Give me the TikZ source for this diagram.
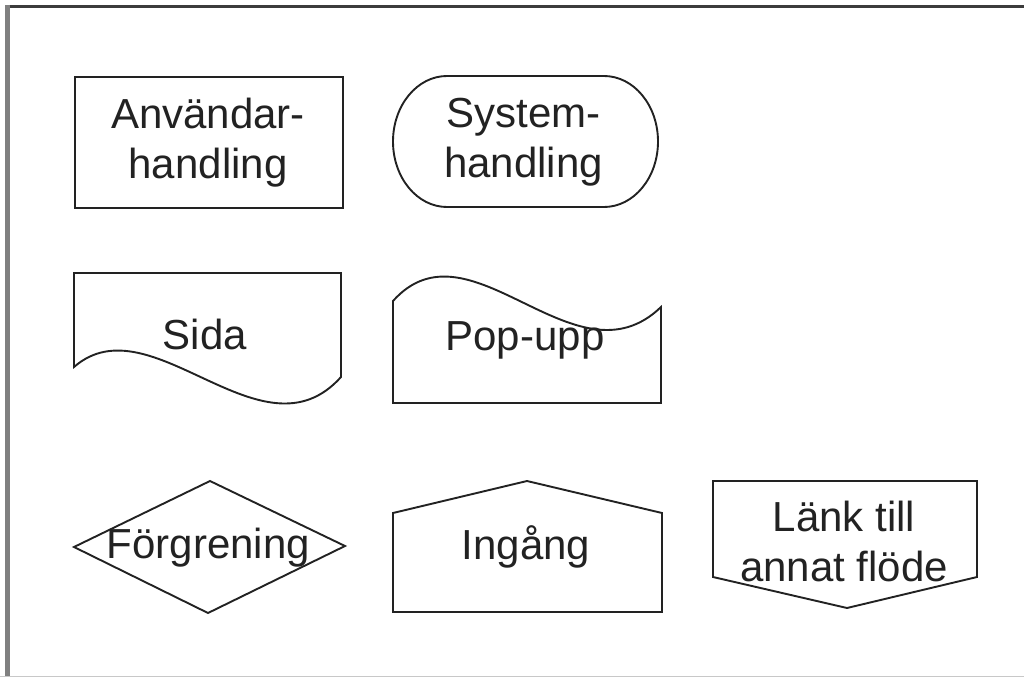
\documentclass[tikz,border=0pt]{standalone}
\usepackage{fontspec}
\setmainfont{Liberation Sans}
\definecolor{ink}{HTML}{222222}
\definecolor{frametop}{HTML}{3C3C3C}
\definecolor{frameleft}{HTML}{808080}
\definecolor{framebottom}{HTML}{C8C8C8}
\begin{document}
\begin{tikzpicture}[x=1pt,y=-1pt,
  shapeline/.style={draw=ink,line width=1.9pt,line join=miter},
  label/.style={text=ink,inner sep=0pt,font=\fontsize{42}{50}\selectfont},
  twoline/.style={label,align=center,anchor=center},
  oneline/.style={label,anchor=base}]
\useasboundingbox (0,0) rectangle (1024,677);

% frame edges
\draw[frametop,line width=3pt] (5,6.5) -- (1024,6.5);
\draw[frameleft,line width=4.5pt] (7.5,5) -- (7.5,677);
\draw[framebottom,line width=1pt] (0,676) -- (1024,676);

% user action: plain rectangle
\draw[shapeline] (75,77) rectangle (343,208);
\node[twoline] (user) at (208,143) {Användar-\\handling};

% system action: stadium
\draw[shapeline] (447,76) -- (604,76)
  .. controls (633.8,76) and (658,105.3) .. (658,141.5)
  .. controls (658,177.7) and (633.8,207) .. (604,207)
  -- (447,207)
  .. controls (417.2,207) and (393,177.7) .. (393,141.5)
  .. controls (393,105.3) and (417.2,76) .. (447,76) -- cycle;
\node[twoline] (system) at (523.5,142.5) {System-\\handling};

% page: wavy bottom edge
\draw[shapeline] (74,273) -- (341,273) -- (341,377)
  .. controls (262,465) and (151,300) .. (74,367) -- cycle;
\node[oneline] (page) at (205,349) {Sida};

% pop-up: wavy top edge
\draw[shapeline] (393,403) -- (661,403) -- (661,307)
  .. controls (575,390) and (470,215) .. (393,301) -- cycle;
\node[oneline] (popup) at (525,350) {Pop-upp};

% branch: diamond
\draw[shapeline] (210,481) -- (345,546) -- (208,613) -- (74,547) -- cycle;
\node[oneline] (branch) at (208.5,558) {Förgrening};

% entry: pentagon pointing up
\draw[shapeline] (393,513) -- (527,481) -- (662,513) -- (662,612) -- (393,612) -- cycle;
\node[oneline] (entry) at (526,559) {Ingång};

% link to another flow: pentagon pointing down
\draw[shapeline] (713,481) -- (977,481) -- (977,577) -- (847,608) -- (713,577) -- cycle;
\node[twoline] (link) at (844,541) {Länk till\\annat flöde};
\end{tikzpicture}
\end{document}
